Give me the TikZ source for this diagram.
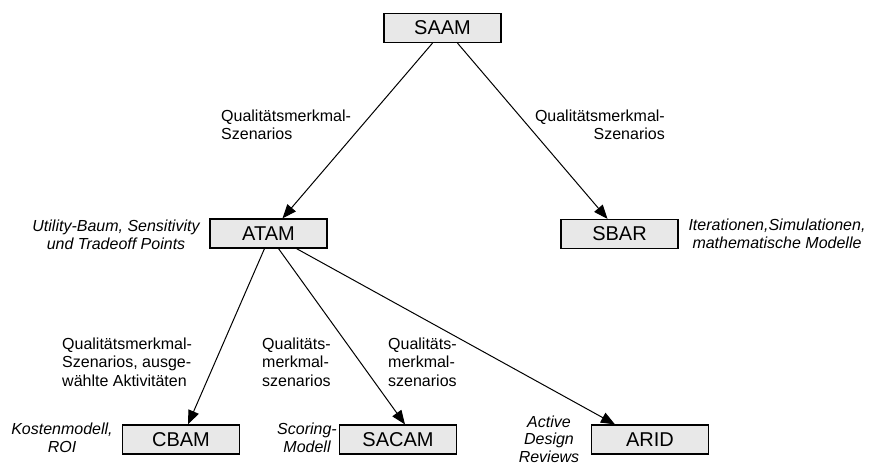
\documentclass[tikz,border=0pt]{standalone}
\usepackage{fontspec}
\setmainfont{Liberation Sans}
\usetikzlibrary{arrows.meta}
\definecolor{boxgray}{gray}{0.91}
\tikzset{
  method/.style={draw=black, line width=1.2pt, fill=boxgray, minimum width=117pt,
    minimum height=29pt, inner sep=0pt, font=\fontsize{20}{22}\selectfont},
  flow/.style={line width=1pt, -{Triangle[length=14pt,width=11pt]}},
  note/.style={inner sep=0pt, font=\fontsize{16}{18.5}\selectfont},
  tech/.style={inner sep=0pt, align=center, font=\fontsize{16}{18.5}\selectfont\itshape},
}
\begin{document}
\begin{tikzpicture}[x=1pt,y=-1pt]
                \useasboundingbox (0,0) rectangle (870,466);
                % methods
                \node[method] (saam) at (442.5,28) {SAAM};
                \node[method] (atam) at (268.5,233.5) {ATAM};
                \node[method] (sbar) at (619.5,234) {SBAR};
                \node[method] (cbam) at (181,439.5) {CBAM};
                \node[method] (sacam) at (398,439.5) {SACAM};
                \node[method] (arid) at (650,439.5) {ARID};
                % techniques
                \node[tech] (utility) at (116,235) {Utility-Baum, Sensitivity\\und Tradeoff Points};
                \node[tech] (iter) at (777,234) {Iterationen,Simulationen,\\mathematische Modelle};
                \node[tech] (kosten) at (62,438) {Kostenmodell,\\ROI};
                \node[tech] (scoring) at (307,438) {Scoring-\\Modell};
                \node[tech, font=\fontsize{16}{17.5}\selectfont\itshape] (active) at (549,439) {Active\\Design\\Reviews};
                % inputs
                \node[note, anchor=west, align=left] (qa) at (221,125) {Qualitätsmerkmal-\\Szenarios};
                \node[note, anchor=east, align=right] (qb) at (665,125) {Qualitätsmerkmal-\\Szenarios};
                \node[note, anchor=west, align=left] (qc) at (62,362) {Qualitätsmerkmal-\\Szenarios, ausge-\\wählte Aktivitäten};
                \node[note, anchor=west, align=left] (qd) at (262,362) {Qualitäts-\\merkmal-\\szenarios};
                \node[note, anchor=west, align=left] (qe) at (388,362) {Qualitäts-\\merkmal-\\szenarios};
                % arrows
                \draw[flow] ([xshift=-10pt]saam.south) -- ([xshift=14pt]atam.north);
                \draw[flow] ([xshift=15pt]saam.south) -- ([xshift=-12pt]sbar.north);
                \draw[flow] ([xshift=-4pt]atam.south) -- ([xshift=7pt]cbam.north);
                \draw[flow] ([xshift=10pt]atam.south) -- ([xshift=7pt]sacam.north);
                \draw[flow] ([xshift=28pt]atam.south) -- ([xshift=-35pt]arid.north);
\end{tikzpicture}
\end{document}
